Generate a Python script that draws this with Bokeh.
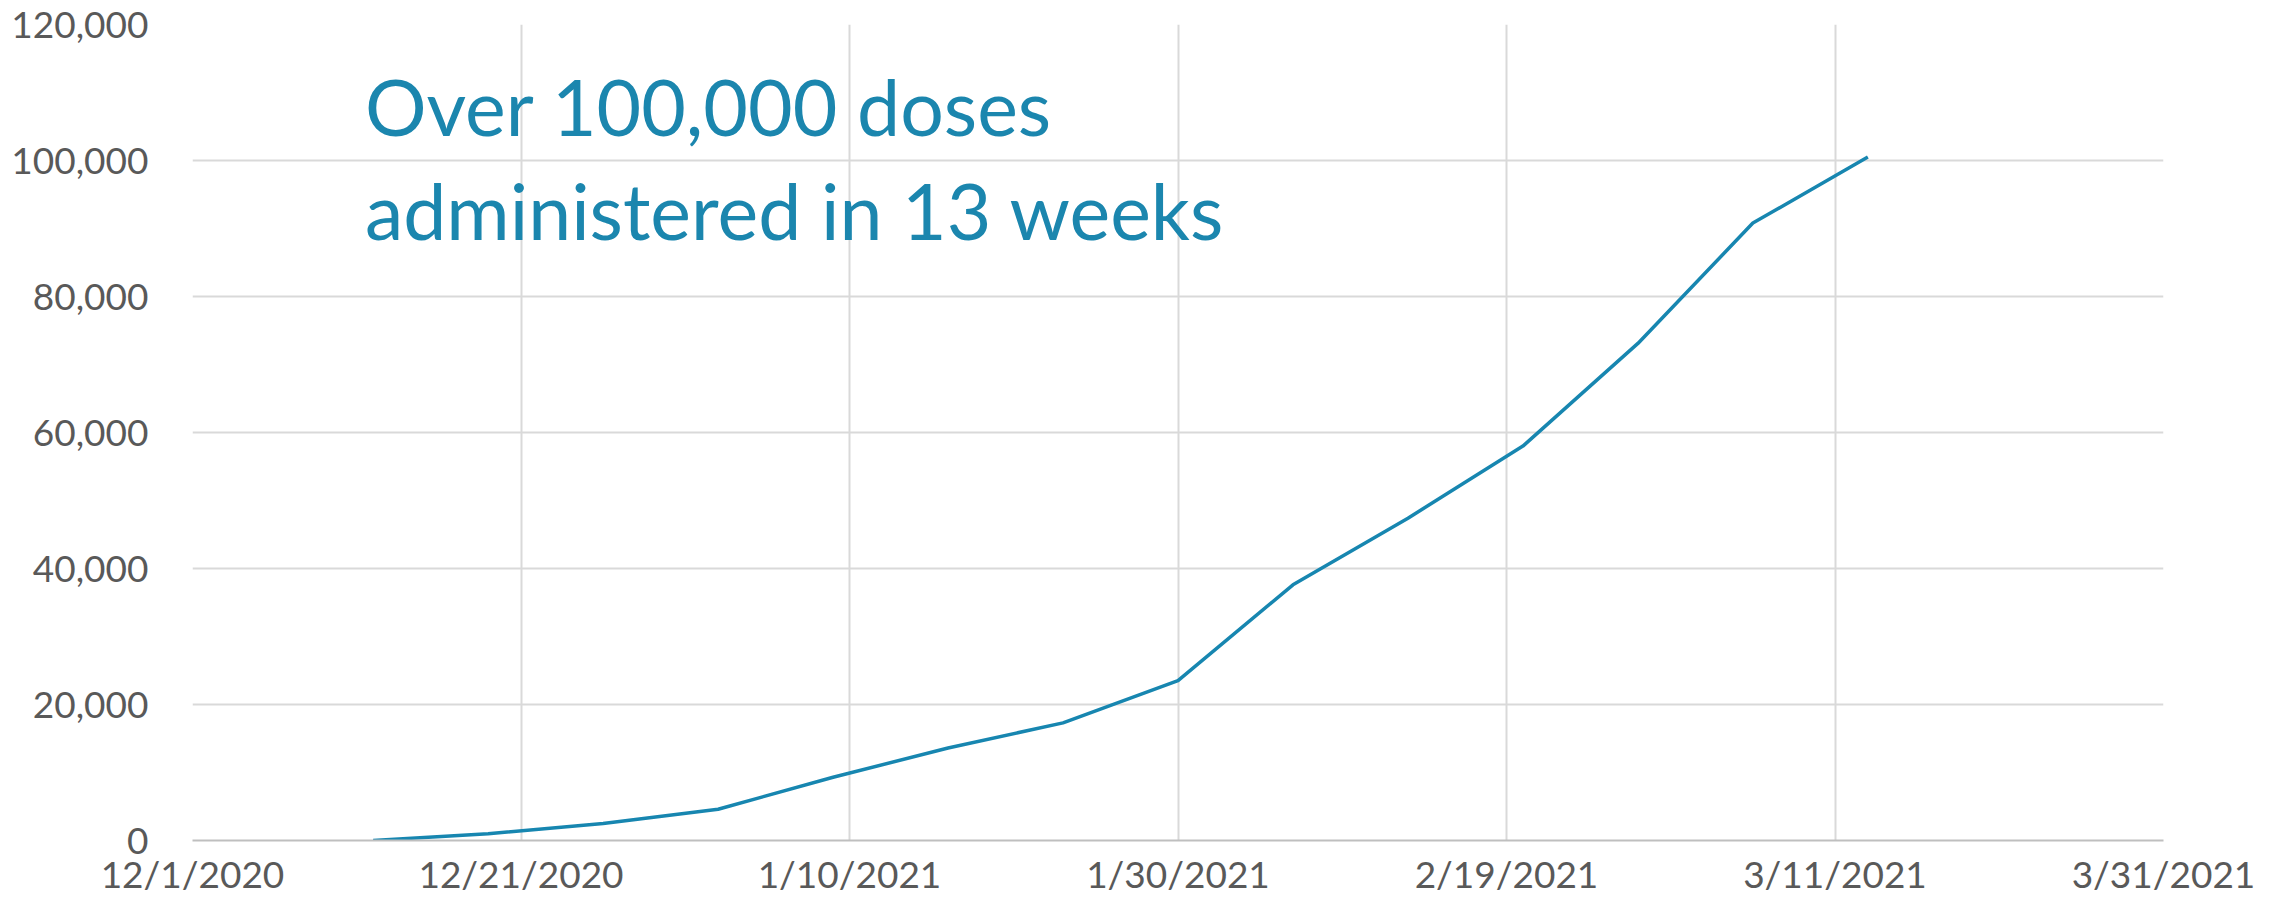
from datetime import datetime
from bokeh.plotting import figure
from bokeh.models import FixedTicker, CustomJSTickFormatter, Range1d, Label, NumeralTickFormatter
from bokeh.embed import file_html
from bokeh.resources import INLINE

# Data (weekly cumulative doses)
dates = ["2020-12-12", "2020-12-19", "2020-12-26", "2021-01-02", "2021-01-09", "2021-01-16",
         "2021-01-23", "2021-01-30", "2021-02-06", "2021-02-13", "2021-02-20", "2021-02-27",
         "2021-03-06", "2021-03-13"]
doses = [0, 1000, 2500, 4600, 9300, 13600, 17300, 23500, 37600, 47400, 58000, 73100, 90800, 100500]

tick_dates = ["2020-12-01", "2020-12-21", "2021-01-10", "2021-01-30", "2021-02-19", "2021-03-11", "2021-03-31"]
y_ticks = [0, 20000, 40000, 60000, 80000, 100000, 120000]

annotation_lines = ["Over 100,000 doses", "administered in 13 weeks"]

def to_dt(s):
    return datetime.strptime(s, "%Y-%m-%d")

def to_ms(s):
    return (to_dt(s) - datetime(1970, 1, 1)).total_seconds() * 1000.0

xs = [to_dt(d) for d in dates]

p = figure(width=2268, height=898, x_axis_type="datetime", output_backend="svg",
           toolbar_location=None, min_border_left=192, min_border_right=105,
           min_border_top=24, min_border_bottom=58)
p.x_range = Range1d(to_dt(tick_dates[0]), to_dt(tick_dates[-1]))
p.y_range = Range1d(0, 120000)
p.outline_line_color = None
p.background_fill_color = "white"
p.border_fill_color = "white"

p.line(xs, doses, line_color="#1786B0", line_width=3.5)

# Axes
p.xaxis.ticker = FixedTicker(ticks=[to_ms(t) for t in tick_dates])
p.xaxis.formatter = CustomJSTickFormatter(code="""
const d = new Date(tick);
return (d.getUTCMonth()+1) + '/' + d.getUTCDate() + '/' + d.getUTCFullYear();
""")
p.yaxis.ticker = FixedTicker(ticks=y_ticks)
p.yaxis.formatter = NumeralTickFormatter(format="0,0")

for ax in (p.xaxis, p.yaxis):
    ax.major_tick_line_color = None
    ax.minor_tick_line_color = None
    ax.major_label_text_font = "Lato"
    ax.major_label_text_font_size = "37px"
    ax.major_label_text_color = "#595959"
p.xaxis.axis_line_color = "#BFBFBF"
p.xaxis.axis_line_width = 2
p.yaxis.axis_line_color = None
p.xaxis.major_label_standoff = 4
p.yaxis.major_label_standoff = 38

p.xgrid.grid_line_color = "#D9D9D9"
p.xgrid.grid_line_width = 2
p.ygrid.grid_line_color = "#D9D9D9"
p.ygrid.grid_line_width = 2

# Annotation
ann_x = datetime(2020, 12, 11, 12)
for txt, yv in zip(annotation_lines, [108000, 92700]):
    p.add_layout(Label(x=ann_x, y=yv, text=txt, text_font="Lato", text_font_size="77px",
                       text_color="#1B86AE", text_baseline="alphabetic", text_align="left"))

open("out.html", "w").write(file_html(p, INLINE))
